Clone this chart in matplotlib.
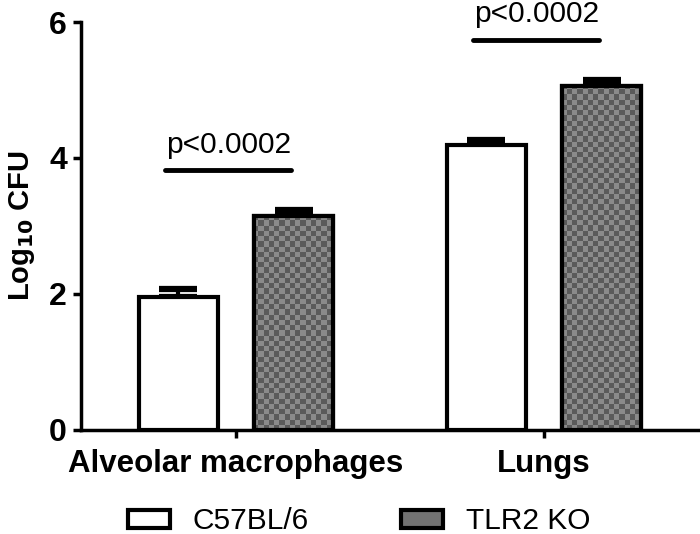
import numpy as np
import matplotlib
matplotlib.use('Agg')
import matplotlib.pyplot as plt
from matplotlib import rcParams
from matplotlib.patches import Patch

rcParams['font.family'] = ['Liberation Sans', 'DejaVu Sans']

groups = ['Alveolar macrophages', 'Lungs']
strains = ['C57BL/6', 'TLR2 KO']
means_wt = [1.96, 4.19]
means_ko = [3.14, 5.06]
err_wt = [0.11, 0.07]
err_ko = [0.10, 0.09]
p_labels = ['p<0.0002', 'p<0.0002']
p_heights = [3.82, 5.74]

fig = plt.figure(figsize=(7.0, 5.34), dpi=100)
ax = fig.add_axes([0.1157, 0.1948, 0.8813, 0.764])

x = np.arange(len(groups))
w = 0.256
off = 0.1875

b1 = ax.bar(x - off, means_wt, w, color='white', edgecolor='black', linewidth=3, zorder=2)
b2 = ax.bar(x + off, means_ko, w, color='#777777', edgecolor='black', linewidth=3, zorder=2)

ax.set_xlim(-0.503, 1.5)
ax.set_ylim(0, 6)

# checkerboard fill for the knockout bars
checker = (np.indices((78, 118)).sum(axis=0) % 2).astype(float)
cmap = matplotlib.colors.ListedColormap(['#5a5a5a', '#8a8a8a'])
for bar in b2:
    im = ax.imshow(checker, cmap=cmap, extent=[-0.503, 1.5, 0, 6], aspect='auto',
                   interpolation='nearest', zorder=2.5)
    im.set_clip_path(bar)
for bar in b2:
    ax.add_patch(plt.Rectangle(bar.get_xy(), bar.get_width(), bar.get_height(),
                               fill=False, edgecolor='black', linewidth=3, zorder=3))

ax.errorbar(x - off, means_wt, yerr=[[0, 0], err_wt], fmt='none', ecolor='black',
            elinewidth=3, capsize=14, capthick=4.5, zorder=1)
ax.errorbar(x + off, means_ko, yerr=[[0, 0], err_ko], fmt='none', ecolor='black',
            elinewidth=3, capsize=14, capthick=4.5, zorder=1)

for i in range(len(groups)):
    ax.plot([x[i] - 0.23, x[i] + 0.18], [p_heights[i]] * 2, color='black', lw=3.5,
            solid_capstyle='round', clip_on=False)
    ax.text(x[i] - 0.025, p_heights[i] + 0.17, p_labels[i], ha='center', va='bottom',
            fontsize=21.5, clip_on=False)

ax.spines['top'].set_visible(False)
ax.spines['right'].set_visible(False)
ax.spines['left'].set_linewidth(2.5)
ax.spines['bottom'].set_linewidth(2.5)
ax.set_yticks([0, 2, 4, 6])
ax.set_xticks(x)
ax.set_xticklabels(groups, fontsize=22.5, fontweight='bold')
for lab in ax.get_yticklabels():
    lab.set_fontsize(23)
    lab.set_fontweight('bold')
ax.tick_params(width=2.5, length=6)
ax.tick_params(axis='x', pad=8)
ax.tick_params(axis='y', pad=4)
ax.set_ylabel('Log$_{\\mathbf{10}}$ CFU', fontsize=21, fontweight='bold')
ax.yaxis.set_label_coords(-0.072, 0.5)

handles = [Patch(facecolor='white', edgecolor='black', linewidth=3),
           Patch(facecolor='#727272', edgecolor='black', linewidth=3)]
fig.legend(handles, strains, loc='lower left', bbox_to_anchor=(0.145, -0.053), ncol=2,
           frameon=False, fontsize=21.5, handlelength=1.4, handleheight=0.57,
           handletextpad=0.75, columnspacing=3.1)

fig.savefig('out.png', dpi=100)
